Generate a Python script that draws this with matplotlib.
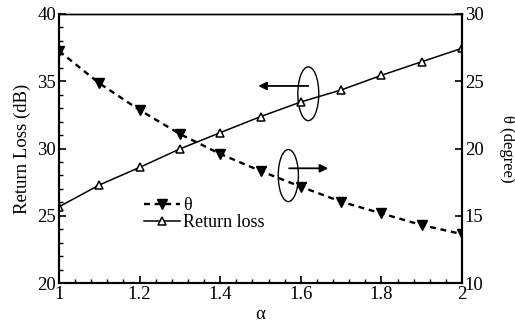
import numpy as np
import matplotlib.pyplot as plt
from matplotlib.patches import Ellipse
from matplotlib.ticker import MultipleLocator, AutoMinorLocator

plt.rcParams['font.family'] = ['Liberation Serif', 'DejaVu Serif']
plt.rcParams['font.size'] = 13.5

# data
alpha = [1.0, 1.1, 1.2, 1.3, 1.4, 1.5, 1.6, 1.7, 1.8, 1.9, 2.0]
return_loss = [25.67, 27.29, 28.6, 29.97, 31.18, 32.37, 33.46, 34.35, 35.44, 36.45, 37.45]
theta = [27.25, 24.85, 22.86, 21.08, 19.6, 18.33, 17.16, 16.05, 15.18, 14.31, 13.64]

fig = plt.figure(figsize=(5.15, 3.25), dpi=100)
ax = fig.add_axes([0.1146, 0.129, 0.7825, 0.828])
ax2 = ax.twinx()

th_line, = ax2.plot(alpha, theta, color='black', linestyle=(0, (2.5, 2.0)), lw=1.7,
                    marker='v', markersize=7, markerfacecolor='black', label='θ')
rl_line, = ax.plot(alpha, return_loss, color='black', lw=1.1,
                   marker='^', markersize=5.5, markerfacecolor='white',
                   markeredgewidth=1.1, label='Return loss')

ax.set_xlim(1, 2)
ax.set_ylim(20, 40)
ax2.set_ylim(10, 30)

ax.xaxis.set_major_locator(MultipleLocator(0.2))
ax.xaxis.set_minor_locator(AutoMinorLocator(5))
ax.yaxis.set_major_locator(MultipleLocator(5))
ax.yaxis.set_minor_locator(MultipleLocator(1))
ax2.yaxis.set_major_locator(MultipleLocator(5))
ax.set_xticks([1, 1.2, 1.4, 1.6, 1.8, 2])
ax.set_xticklabels(['1', '1.2', '1.4', '1.6', '1.8', '2'])

ax.tick_params(which='both', direction='in', top=False, right=False, pad=2)
ax.tick_params(which='major', length=5, width=1.2)
ax.tick_params(which='minor', length=3, width=1)
ax2.tick_params(which='both', direction='in', left=False, right=True, pad=2)
ax2.tick_params(which='major', length=5, width=1.2)

for a in (ax, ax2):
    for s in ('left', 'right', 'bottom'):
        a.spines[s].set_linewidth(1.5)
    a.spines['top'].set_linewidth(1.0)

ax.set_xlabel('α', labelpad=2)
ax.set_ylabel('Return Loss (dB)', labelpad=5)
ax2.set_ylabel('θ (degree)', rotation=270, labelpad=23, fontsize=12)

# left-pointing annotation for return loss
ax.add_patch(Ellipse((1.6186, 34.07), 0.052, 4.0, fill=False, lw=1.0, color='black'))
ax.annotate('', xy=(1.4945, 34.65), xytext=(1.6186, 34.65),
            arrowprops=dict(arrowstyle='-|>', color='black', lw=1.3,
                            mutation_scale=12, shrinkA=0, shrinkB=0))
# right-pointing annotation for theta
ax.add_patch(Ellipse((1.569, 27.99), 0.05, 3.87, fill=False, lw=1.0, color='black'))
ax.annotate('', xy=(1.668, 28.53), xytext=(1.571, 28.53),
            arrowprops=dict(arrowstyle='-|>', color='black', lw=1.3,
                            mutation_scale=12, shrinkA=0, shrinkB=0))

leg = ax.legend([th_line, rl_line], ['θ', 'Return loss'], loc='lower left',
                bbox_to_anchor=(0.193, 0.167), frameon=False, handlelength=2.0,
                handletextpad=0.15, labelspacing=0.0, borderaxespad=0,
                fontsize=13)

fig.savefig('out.png', dpi=100)
